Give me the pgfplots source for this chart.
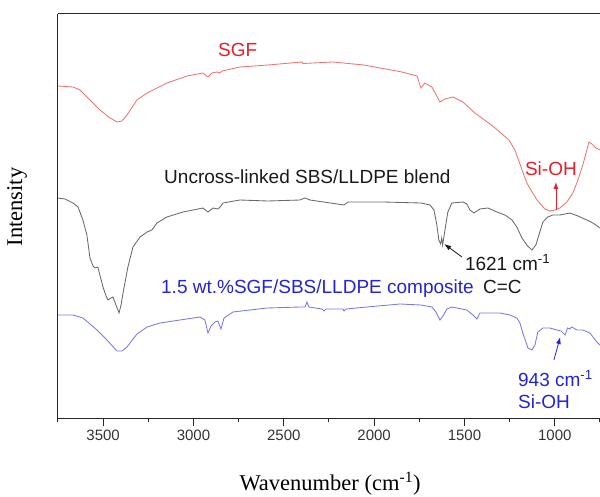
\documentclass[border=0pt]{standalone}
\usepackage{fontspec}
\setmainfont{Liberation Serif}
\newfontfamily\arial{Liberation Sans}
\usepackage{pgfplots}
\pgfplotsset{compat=1.18}
\usetikzlibrary{arrows.meta}

\definecolor{sgfline}{RGB}{240,115,115}
\definecolor{blendline}{RGB}{105,105,105}
\definecolor{compline}{RGB}{120,120,235}
\definecolor{sgftext}{RGB}{232,30,38}
\definecolor{comptext}{RGB}{35,35,215}

\tikzset{annot/.style={font=\arial\fontsize{19}{22}\selectfont, inner sep=0pt}}

\begin{document}
\begin{tikzpicture}
\begin{axis}[
  scale only axis, width=542pt, height=404pt,
  at={(0pt,0pt)}, anchor=south west,
  x dir=reverse, xmin=750, xmax=3750, ymin=0, ymax=404,
  axis x line*=box, axis y line*=left,
  xtick={1000,1500,...,3500}, minor xtick={750,1250,...,3750},
  ytick=\empty, xtick pos=left,
  tick align=outside,
  major tick length=8pt, minor tick length=4pt,
  every tick/.style={black!85, line width=1pt},
  axis line style={line width=1pt, black!85},
  /pgf/number format/assume math mode=true,
  /pgf/number format/1000 sep={},
  xticklabel style={font=\arial\fontsize{15}{18}\selectfont, text=black!80},
  xlabel={Wavenumber (cm\textsuperscript{-1})},
  xlabel style={font=\fontsize{22.5}{26}\selectfont, at={(axis description cs:0.502,-0.162)}, anchor=center},
  ylabel={Intensity},
  ylabel style={font=\fontsize{22.5}{26}\selectfont, at={(axis description cs:-0.0756,0.522)}, anchor=center},
]

% SGF
\addplot[sgfline, line width=0.85pt] coordinates {
(3750,332) (3667,331) (3628,328) (3573,318) (3518,308) (3462,300) (3423,296)
(3396,297) (3368,303) (3313,318) (3257,325) (3147,335) (3036,342) (2948,345)
(2920,341) (2898,345) (2870,346) (2854,345) (2842,347) (2743,351) (2588,353)
(2400,356) (2394,354.5) (2228,356) (2057,353) (1846,346) (1763,342) (1741,330)
(1719,335) (1680,331) (1636,316) (1608,319) (1564,321) (1509,316) (1442,305)
(1337,291) (1254,278) (1221,268) (1155,235) (1099,218) (1055,209) (1027,207)
(1000,208) (972,210) (933,216) (900,225) (872,238) (845,253) (823,268)
(811,276) (795,274) (773,270) (750,268)
};

% uncross-linked SBS/LLDPE blend
\addplot[blendline, line width=0.85pt] coordinates {
(3750,220) (3711,219) (3667,215) (3639,211) (3612,198) (3590,183) (3573,160)
(3556,152) (3545,150) (3529,151) (3518,143) (3501,131) (3484,122) (3473,118)
(3457,120) (3446,121) (3429,113) (3412,105) (3401,113) (3390,125) (3363,151)
(3335,171) (3296,181) (3257,186) (3230,188) (3202,195) (3147,201) (3058,206)
(2948,210) (2920,206) (2892,210) (2865,209) (2848,212) (2837,215) (2743,218)
(2588,217) (2411,218) (2383,220) (2355,218) (2167,213) (2145,216) (1951,216)
(1741,215) (1691,213) (1669,208) (1653,193) (1642,178) (1632,174) (1626,180)
(1621,173) (1608,188) (1592,206) (1570,215) (1509,216) (1487,214) (1470,208)
(1448,205) (1431,207) (1415,209) (1370,210) (1321,206) (1276,203) (1237,198)
(1210,191) (1182,180) (1155,173) (1127,168) (1105,173) (1083,186) (1066,196)
(1039,201) (1011,203) (972,203) (944,204) (917,205) (872,202) (823,198)
(789,195) (750,190)
};

% 1.5 wt.% SGF/SBS/LLDPE composite
\addplot[compline, line width=0.85pt] coordinates {
(3750,103) (3667,103) (3612,100) (3534,88) (3479,78) (3423,67) (3396,67)
(3368,71) (3313,84) (3257,91) (3186,95) (3075,98) (2964,101) (2937,98)
(2920,85) (2903,92) (2881,96) (2865,97) (2848,89) (2831,100) (2782,106)
(2593,110) (2411,111) (2383,111) (2372,116) (2361,111) (2289,109) (2278,107)
(2267,109) (2173,109) (2167,107) (2156,109) (2040,111) (1857,114) (1741,113)
(1680,111) (1658,106) (1636,98) (1619,102) (1597,109) (1570,111) (1487,108)
(1453,103) (1431,99) (1415,105) (1376,105) (1304,105) (1249,103) (1210,100)
(1193,95) (1177,85) (1149,70) (1127,68) (1110,73) (1094,86) (1066,90)
(1027,90) (989,88) (965,87) (943,83) (930,90) (918,89) (906,91) (878,88)
(845,88) (806,85) (767,76) (750,73)
};

% labels
\node[annot, text=sgftext, anchor=base west] at (axis cs:2865,361) {SGF};
\node[annot, text=black!90, anchor=base west] at (axis cs:3163,235) {Uncross-linked SBS/LLDPE blend};
\node[annot, text=comptext, anchor=base west] at (axis cs:3180,125) {1.5 wt.\%SGF/SBS/LLDPE composite};
\node[annot, text=black!90, anchor=base west] at (axis cs:1398,125) {C=C};
\node[annot, text=black!90, anchor=base west] at (axis cs:1498,148) {1621 cm\textsuperscript{-1}};
\node[annot, text=sgftext, anchor=base west] at (axis cs:1166,243) {Si-OH};
\node[annot, text=comptext, anchor=base west] at (axis cs:1204,32) {943 cm\textsuperscript{-1}};
\node[annot, text=comptext, anchor=base west] at (axis cs:1204,10) {Si-OH};

% peak arrows
\draw[black!90, line width=0.8pt, -{Latex[length=7pt,width=5pt]}] (axis cs:1514,161) -- (axis cs:1612,174);
\draw[sgftext, line width=0.8pt, -{Latex[length=7pt,width=5pt]}] (axis cs:994,208) -- (axis cs:994,236);
\draw[comptext, line width=0.8pt, -{Latex[length=7pt,width=5pt]}] (axis cs:1005,58) -- (axis cs:970,81);
\end{axis}
\pgfresetboundingbox
\path (-58pt,-78pt) rectangle (542pt,418pt);
\end{tikzpicture}
\end{document}
